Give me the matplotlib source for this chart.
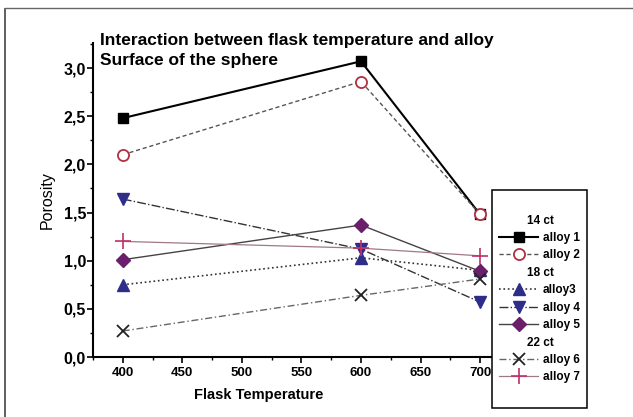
import numpy as np
import matplotlib.pyplot as plt
from matplotlib.lines import Line2D
from matplotlib.ticker import FuncFormatter, MultipleLocator

plt.rcParams['font.family'] = ['Liberation Sans', 'DejaVu Sans']

temps = [400, 600, 700]
alloy1 = [2.48, 3.07, 1.48]
alloy2 = [2.10, 2.86, 1.48]
alloy3 = [0.75, 1.03, 0.90]
alloy4 = [1.64, 1.12, 0.57]
alloy5 = [1.01, 1.37, 0.89]
alloy6 = [0.27, 0.64, 0.81]
alloy7 = [1.20, 1.13, 1.05]

labels = ['alloy 1', 'alloy 2', 'alloy3', 'alloy 4', 'alloy 5', 'alloy 6', 'alloy 7']
groups = ['14 ct', '18 ct', '22 ct']

fig = plt.figure(figsize=(6.33, 4.17), dpi=100)
ax = fig.add_axes([93/633, 1-357/417, (492-93)/633, (357-43)/417])

h1, = ax.plot(temps, alloy1, color='black', lw=1.5, ls='-', marker='s', ms=7,
              mfc='black', mec='black', zorder=3)
h2, = ax.plot(temps, alloy2, color='#555555', lw=1.0, ls=(0, (3, 2)), marker='o', ms=8,
              mfc='white', mec='#b03040', mew=1.3, zorder=4)
h3, = ax.plot(temps, alloy3, color='#333333', lw=1.2, ls=':', marker='^', ms=9,
              mfc='#2e2e8a', mec='#2e2e8a', zorder=3)
h4, = ax.plot(temps, alloy4, color='#333333', lw=1.0, ls='-.', marker='v', ms=9,
              mfc='#2e2e8a', mec='#2e2e8a', zorder=3)
h5, = ax.plot(temps, alloy5, color='#444444', lw=1.0, ls='-', marker='D', ms=7.5,
              mfc='#6a1f6a', mec='#6a1f6a', zorder=3)
h6, = ax.plot(temps, alloy6, color='#666666', lw=1.0, ls=(0, (5, 2, 1, 2)), marker='x', ms=9,
              mfc='black', mec='#222222', mew=1.3, zorder=3)
h7, = ax.plot(temps, alloy7, color='#a07888', lw=0.9, ls='-', marker='+', ms=11,
              mec='#c0306a', mew=1.2, zorder=3)

ax.set_xlim(375, 710)
ax.set_ylim(0, 3.26)
ax.xaxis.set_major_locator(MultipleLocator(50))
ax.xaxis.set_minor_locator(MultipleLocator(25))
ax.yaxis.set_major_locator(MultipleLocator(0.5))
ax.yaxis.set_minor_locator(MultipleLocator(0.25))
ax.yaxis.set_major_formatter(FuncFormatter(lambda v, p: f"{v:.1f}".replace('.', ',')))
ax.spines['top'].set_visible(False)
ax.spines['right'].set_visible(False)
ax.spines['left'].set_linewidth(1.5)
ax.spines['bottom'].set_linewidth(1.5)
ax.tick_params(which='major', direction='out', length=4, width=1.2)
ax.tick_params(which='minor', direction='out', length=2.5, width=1)
ax.tick_params(axis='y', labelsize=11.5, pad=1)
ax.tick_params(axis='x', labelsize=9.5, pad=3)
for t in ax.get_xticklabels() + ax.get_yticklabels():
    t.set_fontweight('bold')

ax.set_xlabel('Flask Temperature', fontsize=10.5, fontweight='bold')
ax.xaxis.set_label_coords((259-93)/(492-93), -0.12)
ax.xaxis.label.set_va('center')
ax.set_ylabel('Porosity', fontsize=11.5, labelpad=6)

fig.text(100/633, 1-40/417, 'Interaction between flask temperature and alloy',
         fontsize=12.5, fontweight='bold', va='center', ha='left')
fig.text(100/633, 1-60/417, 'Surface of the sphere',
         fontsize=12.5, fontweight='bold', va='center', ha='left')

blank = Line2D([], [], ls='none', marker='none')
handles = [blank, blank, h1, h2, blank, h3, h4, h5, blank, h6, h7, blank]
leg_labels = [' ', groups[0], labels[0], labels[1], groups[1], labels[2], labels[3],
              labels[4], groups[2], labels[5], labels[6], ' ']
leg = fig.legend(handles, leg_labels, loc='upper left',
                 bbox_to_anchor=(492/633, 1-190/417), bbox_transform=fig.transFigure,
                 prop={'weight': 'bold', 'size': 8.5}, frameon=True, fancybox=False,
                 edgecolor='black', framealpha=1, borderpad=0.6, labelspacing=0.46,
                 handlelength=3.3, handletextpad=0.4, borderaxespad=0)
leg.get_frame().set_linewidth(1.1)
for t in leg.get_texts():
    if t.get_text() in groups:
        t.set_x(-16)

# scan frame
fig.add_artist(Line2D([5/633, 5/633], [0, 1-9/417], transform=fig.transFigure,
                      color='#444444', lw=1.2))
fig.add_artist(Line2D([5/633, 1], [1-8/417, 1-8/417], transform=fig.transFigure,
                      color='#666666', lw=1.0))

fig.savefig('out.png', dpi=100)
